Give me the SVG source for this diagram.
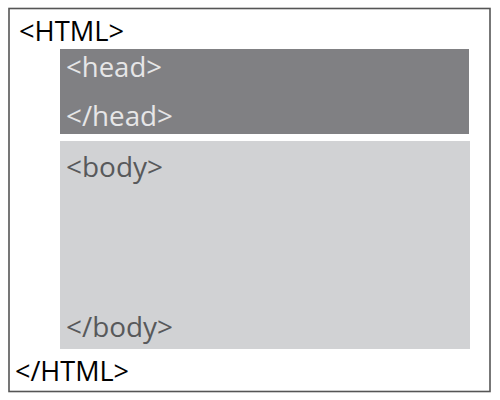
<svg xmlns="http://www.w3.org/2000/svg" width="500" height="400" viewBox="0 0 500 400">
<style>
text{font-family:"Open Sans","Liberation Sans",sans-serif;font-size:27.5px}
.html{fill:#000;font-size:28px}
.head{fill:#e6e6e7}
.body{fill:#58595b}
</style>
<rect width="500" height="400" fill="#fff"/>
<g id="html">
<rect x="9" y="8.5" width="481" height="383" fill="#fff" stroke="#555" stroke-width="1.6"/>
<text class="html" x="19" y="40.5" textLength="105" lengthAdjust="spacingAndGlyphs">&lt;HTML&gt;</text>
<text class="html" x="15" y="380.5" textLength="114" lengthAdjust="spacingAndGlyphs">&lt;/HTML&gt;</text>
</g>
<g id="head">
<rect x="60" y="49" width="409" height="85" fill="#808083"/>
<text class="head" x="66" y="76.5" textLength="96" lengthAdjust="spacingAndGlyphs">&lt;head&gt;</text>
<text class="head" x="66" y="126" textLength="107" lengthAdjust="spacingAndGlyphs">&lt;/head&gt;</text>
</g>
<g id="body">
<rect x="60" y="141" width="410" height="208" fill="#d1d2d4"/>
<text class="body" x="66" y="176.5" textLength="97" lengthAdjust="spacingAndGlyphs">&lt;body&gt;</text>
<text class="body" x="66" y="336.5" textLength="107" lengthAdjust="spacingAndGlyphs">&lt;/body&gt;</text>
</g>
<g id="connectors"/>
</svg>
